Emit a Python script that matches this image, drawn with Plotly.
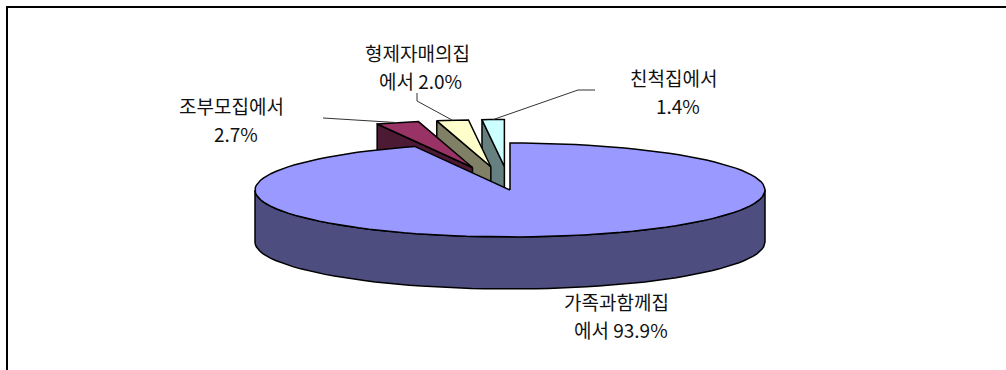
import numpy as np
import plotly.graph_objects as go

# ---- data ----
categories = ["가족과함께집에서", "조부모집에서", "형제자매의집에서", "친척집에서"]
values = [93.9, 2.7, 2.0, 1.4]
label_line1 = ["가족과함께집", "조부모집에서", "형제자매의집", "친척집에서"]
label_line2 = ["에서 {:.1f}%", "{:.1f}%", "에서 {:.1f}%", "{:.1f}%"]

# ---- style / layout ----
top_colors = ["#9999FF", "#993366", "#FFFFCC", "#CCFFFF"]
side_colors = ["#4D4D80", "#4D1A33", "#808066", "#668080"]
explode = [0.0, 0.5, 0.5, 0.5]
CX, CY, RX, RY, DEPTH = 510, 190, 255, 47, 52
START = 90.0
label_x = [(616, 621), (231, 236), (417, 420), (673, 678)]
label_y = [(301, 329), (105, 133), (52, 80), (77, 105)]
leader_start = [None, [(323, 118)], [(417, 93), (417, 101)], [(595, 90), (578, 90)]]
W, H = 1006, 370

total = sum(values)
spans = []
a = START
for v in values:
    s = 360.0 * v / total
    spans.append((a - s, a))
    a -= s


def arc(lo, hi, dx=0.0, dy=0.0, z=0.0, reverse=False, n=120):
    k = max(3, int(abs(hi - lo) / 360 * n) + 3)
    ph = np.radians(np.linspace(hi, lo, k) if reverse else np.linspace(lo, hi, k))
    return list(CX + dx + RX * np.cos(ph)), list(CY + dy - RY * np.sin(ph) + z)


fig = go.Figure()


def poly(xs, ys, fill):
    fig.add_trace(go.Scatter(x=xs + [xs[0]], y=ys + [ys[0]], mode="lines", fill="toself",
                             fillcolor=fill, line=dict(color="#000000", width=1.5),
                             hoverinfo="skip", showlegend=False))


leader_end = [None] * len(values)
# exploded small slices (behind the main slice), back-most first
for i in range(len(values) - 1, 0, -1):
    lo, hi = spans[i]
    mid = np.radians((lo + hi) / 2)
    dx = RX * explode[i] * np.cos(mid)
    dy = -RY * explode[i] * np.sin(mid)
    ax, ay = CX + dx, CY + dy
    ox = CX + dx + RX * np.cos(np.radians(hi))
    oy = CY + dy - RY * np.sin(np.radians(hi))
    poly([ax, ox, ox, ax], [ay, oy, oy + DEPTH, ay + DEPTH], side_colors[i])
    xs, ys = arc(lo, hi, dx, dy, reverse=True)
    poly([ax] + xs, [ay] + ys, top_colors[i])
    leader_end[i] = (CX + dx + RX * np.cos(mid), CY + dy - RY * np.sin(mid))

# main slice
lo, hi = spans[0]
xt, yt = arc(-180, 0)
xb, yb = arc(-180, 0, z=DEPTH, reverse=True)
poly(xt + xb, yt + yb, side_colors[0])
xs, ys = arc(lo, hi, reverse=True)
poly([CX] + xs, [CY] + ys, top_colors[0])

# leader lines
for i in range(1, len(values)):
    pts = leader_start[i] + [leader_end[i]]
    fig.add_trace(go.Scatter(x=[p[0] for p in pts], y=[p[1] for p in pts], mode="lines",
                             line=dict(color="#333333", width=1), hoverinfo="skip",
                             showlegend=False))

for i, v in enumerate(values):
    for j, txt in enumerate([label_line1[i], label_line2[i].format(v)]):
        fig.add_annotation(x=label_x[i][j], y=label_y[i][j], xref="x", yref="y",
                           text=txt, showarrow=False, borderpad=0,
                           xanchor="center", yanchor="middle", align="center",
                           font=dict(family="Noto Sans CJK KR", size=19, color="#111111"))

fig.add_shape(type="rect", xref="x", yref="y", x0=7, y0=7, x1=W + 20, y1=H + 20,
              line=dict(color="#000000", width=2), fillcolor="rgba(0,0,0,0)", layer="above")

fig.update_layout(width=W, height=H, margin=dict(l=0, r=0, t=0, b=0),
                  paper_bgcolor="white", plot_bgcolor="white",
                  xaxis=dict(range=[0, W], visible=False, fixedrange=True),
                  yaxis=dict(range=[H, 0], visible=False, fixedrange=True))
fig.write_html("out.html")
